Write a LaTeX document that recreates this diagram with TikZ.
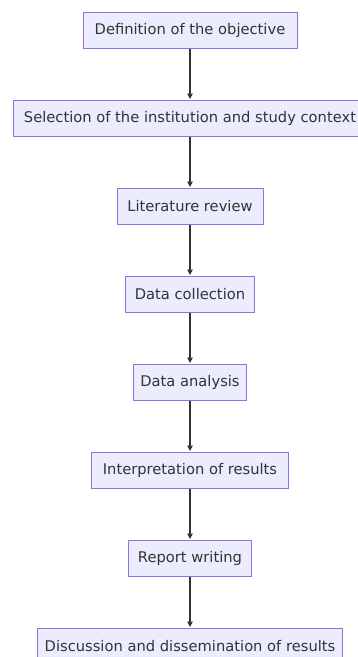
\documentclass[tikz,border=0pt]{standalone}
\usepackage{fontspec}
\setmainfont{DejaVu Sans}
\usetikzlibrary{arrows.meta}
\definecolor{boxfill}{HTML}{ECECFF}
\definecolor{boxline}{HTML}{9370DB}
\definecolor{ink}{HTML}{333333}
\tikzset{
  stepbox/.style={draw=boxline, fill=boxfill, line width=1pt, minimum height=36pt, inner xsep=4pt, inner ysep=0pt, text=ink, font=\fontsize{14.7}{18}\selectfont},
  flow/.style={draw=ink, line width=1.5pt, -{Triangle[length=5.5pt,width=5.5pt]}, shorten >=0.5pt}
}
\begin{document}
\begin{tikzpicture}[x=1pt,y=-1pt]
\useasboundingbox (0,0) rectangle (358,657);
\clip (0,0) rectangle (358,657);
\node[stepbox, minimum width=214pt] (n1) at (190,30) {Definition of the objective};
\node[stepbox, minimum width=354pt] (n2) at (190,118) {Selection of the institution and study context};
\node[stepbox, minimum width=146pt] (n3) at (190,206) {Literature review};
\node[stepbox, minimum width=129pt] (n4) at (190,294) {Data collection};
\node[stepbox, minimum width=113pt] (n5) at (190,382) {Data analysis};
\node[stepbox, minimum width=197pt] (n6) at (190,470) {Interpretation of results};
\node[stepbox, minimum width=123pt] (n7) at (190,558) {Report writing};
\node[stepbox, minimum width=305pt] (n8) at (190,646) {Discussion and dissemination of results};
\foreach \a/\b in {n1/n2,n2/n3,n3/n4,n4/n5,n5/n6,n6/n7,n7/n8}
  \draw[flow] (\a) -- (\b);
\end{tikzpicture}
\end{document}
